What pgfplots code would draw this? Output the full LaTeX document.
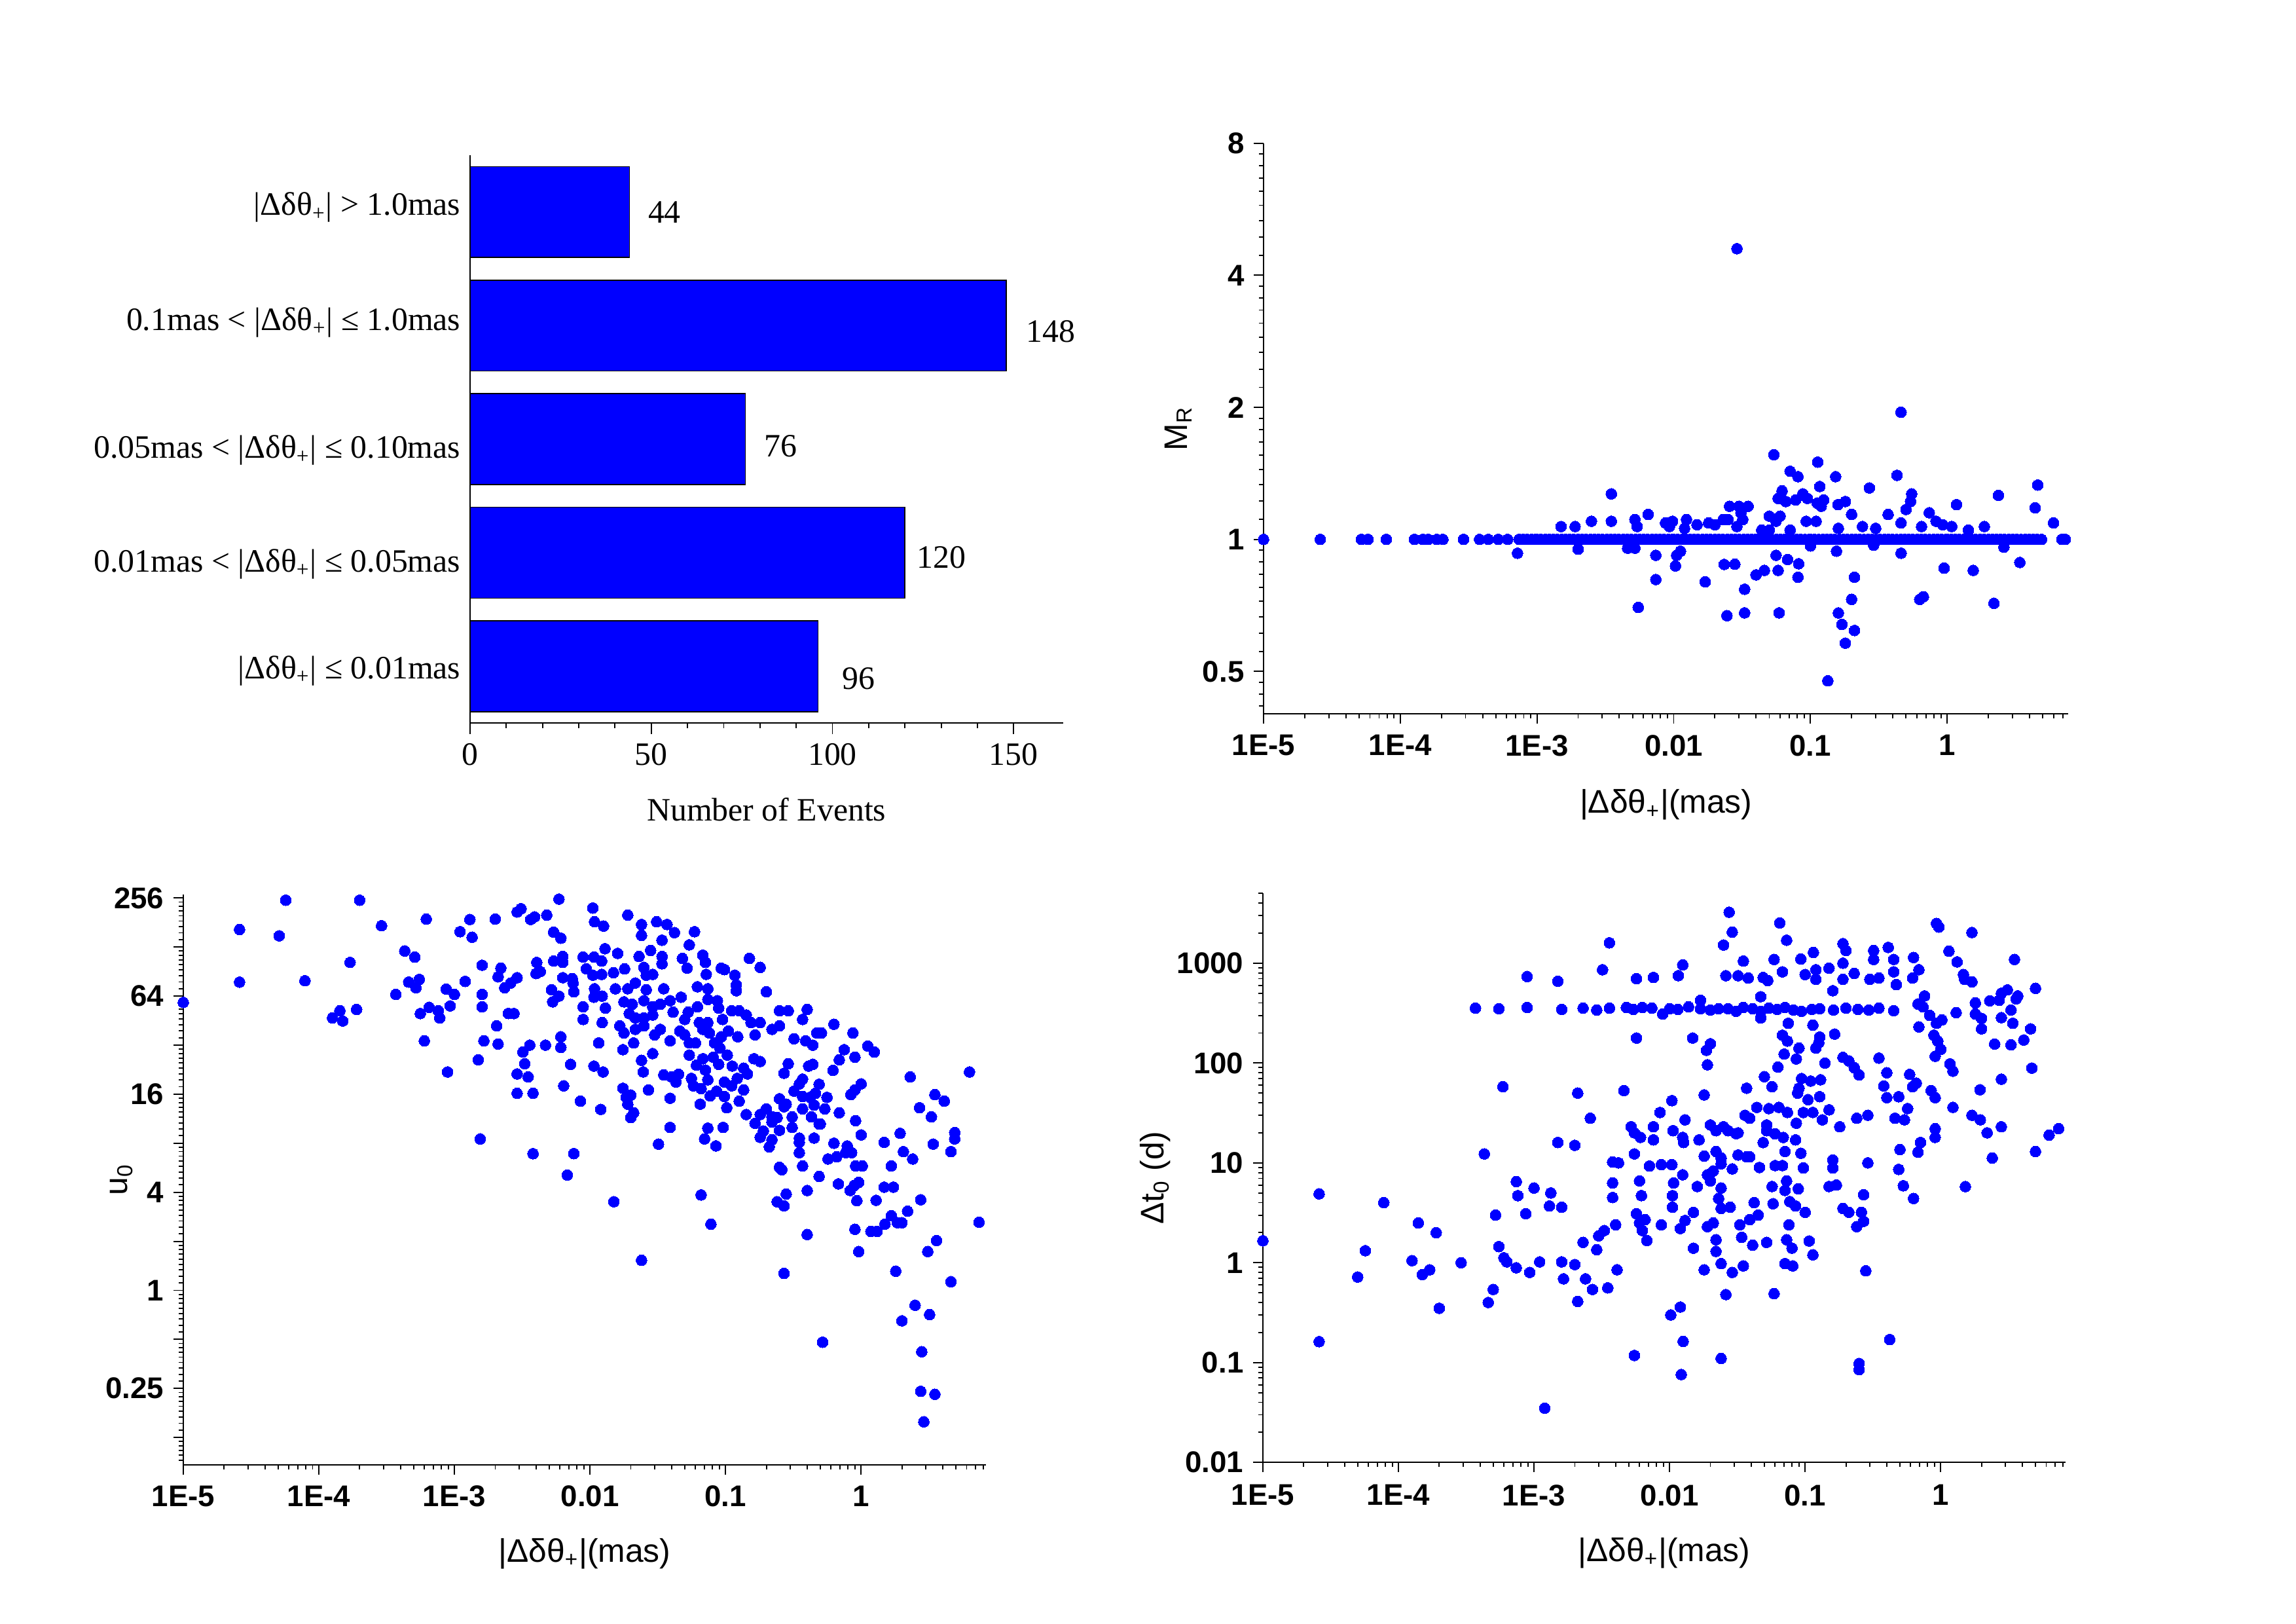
\documentclass[border=0pt]{standalone}
\usepackage{fontspec}
\setmainfont{Liberation Serif}
\setsansfont{Liberation Sans}
\usepackage{pgfplots}
\pgfplotsset{compat=1.18}
\begin{document}
\begin{tikzpicture}
\path[use as bounding box] (0,0) rectangle (29.7cm,21cm);

% ---------------- top left: bar chart
\begin{axis}[
  at={(6.080cm,11.650cm)}, anchor=south west,
  scale only axis, width=7.670cm, height=7.342cm, clip=false,
  xmin=0, xmax=163.6, ymin=-0.5, ymax=4.5,
  axis lines*=left, axis line style={-,line width=0.5pt},
  tick align=outside, major tick length=4.1pt, minor tick length=1.8pt,
  tick style={black,line width=0.45pt},
  xtick={0,50,100,150}, minor x tick num=4,
  ytick=\empty, minor ytick={0.5,1.5,2.5,3.5},
  extra y ticks={-0.04,0.90,1.90,3.03,4.04},
  extra y tick labels={|Δδθ\textsubscript{+}| ≤ 0.01mas,0.01mas < |Δδθ\textsubscript{+}| ≤ 0.05mas,0.05mas < |Δδθ\textsubscript{+}| ≤ 0.10mas,0.1mas < |Δδθ\textsubscript{+}| ≤ 1.0mas,|Δδθ\textsubscript{+}| > 1.0mas},
  extra y tick style={major tick length=0pt, tick style={draw=none}},
  tick label style={font=\fontsize{12}{14}\selectfont},
  xticklabel={\pgfmathprintnumber[assume math mode=true]{\tick}},
  xlabel={Number of Events},
  every axis x label/.style={at={(axis description cs:0.5,-0.153)},anchor=center,font=\fontsize{12}{14}\selectfont},
]
\addplot[xbar, bar width=0.8, fill=blue, draw=black, line width=0.4pt] coordinates {(96,0)(120,1)(76,2)(148,3)(44,4)};
\node[anchor=west,inner sep=0pt,font=\fontsize{12}{14}\selectfont] at (axis cs:49,4) {44};
\node[anchor=west,inner sep=0pt,font=\fontsize{12}{14}\selectfont] at (axis cs:153.4,2.95) {148};
\node[anchor=west,inner sep=0pt,font=\fontsize{12}{14}\selectfont] at (axis cs:81,1.94) {76};
\node[anchor=west,inner sep=0pt,font=\fontsize{12}{14}\selectfont] at (axis cs:123.1,0.96) {120};
\node[anchor=west,inner sep=0pt,font=\fontsize{12}{14}\selectfont] at (axis cs:102.5,-0.11) {96};
\end{axis}

% ---------------- top right: M_R
\begin{axis}[
  at={(16.345cm,11.767cm)}, anchor=south west,
  scale only axis, width=10.41cm, height=7.38cm,
  xmode=log, xmin=1e-5, xmax=7.7,
  axis lines*=left, axis line style={-,line width=0.5pt},
  tick align=outside, major tick length=3.6pt, minor tick length=1.7pt,
  tick style={black,line width=0.45pt},
  xtick={1e-5,1e-4,1e-3,0.01,0.1,1},
  xticklabels={1E-5,1E-4,1E-3,0.01,0.1,1},
  minor xtick={2e-5,3e-5,4e-5,5e-5,6e-5,7e-5,8e-5,9e-5,2e-4,3e-4,4e-4,5e-4,6e-4,7e-4,8e-4,9e-4,0.002,0.003,0.004,0.005,0.006,0.007,0.008,0.009,0.02,0.03,0.04,0.05,0.06,0.07,0.08,0.09,0.2,0.3,0.4,0.5,0.6,0.7,0.8,0.9,2,3,4,5,6,7,8},
  tick label style={font=\sffamily\bfseries\fontsize{11}{13}\selectfont},
  xticklabel style={yshift=-0.6pt},
  ymode=log, ymin=0.4, ymax=8,
  ytick={0.5,1,2,4,8}, yticklabels={0.5,1,2,4,8},
  minor ytick={0.4167,0.4444,0.4722,0.5556,0.6111,0.6667,0.7222,0.7778,0.8333,0.8889,0.9444,1.111,1.222,1.333,1.444,1.556,1.667,1.778,1.889,2.222,2.444,2.667,2.889,3.111,3.333,3.556,3.778,4.444,4.889,5.333,5.778,6.222,6.667,7.111,7.556},
  xlabel={|Δδθ\textsubscript{+}|(mas)},
  ylabel={M\textsubscript{R}},
  every axis y label/.style={at={(axis description cs:-0.1057,0.5)},rotate=90,anchor=center,font=\sffamily\fontsize{12}{14}\selectfont},
  every axis x label/.style={at={(axis description cs:0.5,-0.159)},anchor=center,font=\sffamily\fontsize{12}{14}\selectfont},
]
\addplot[only marks, mark=*, mark size=2.0pt, color=blue, mark options={fill=blue, draw=blue, line width=0pt}] coordinates {
(1e-5,1)(2.6e-5,1)(5.2e-5,1)(5.8e-5,1)(7.9e-5,1)(1.27e-4,1)(1.46e-4,1)(1.6e-4,1)(1.85e-4,1)(2.05e-4,1)(2.9e-4,1)(3.8e-4,1)(4.4e-4,1)(5.2e-4,1)(6.1e-4,1)(7.4e-4,1)(7.9e-4,1)(8.5e-4,1)(9.1e-4,1)(9.8e-4,1)
(1e-3,1)(1.07e-3,1)(1.15e-3,1)(1.23e-3,1)(1.32e-3,1)(1.41e-3,1)(1.51e-3,1)(1.62e-3,1)(1.74e-3,1)(1.86e-3,1)(2e-3,1)(2.14e-3,1)(2.29e-3,1)(2.46e-3,1)(2.63e-3,1)(2.82e-3,1)(3.02e-3,1)(3.24e-3,1)(3.47e-3,1)(3.72e-3,1)(3.98e-3,1)(4.27e-3,1)(4.57e-3,1)(4.9e-3,1)(5.25e-3,1)(5.62e-3,1)(6.03e-3,1)(6.46e-3,1)(6.92e-3,1)(7.41e-3,1)(7.94e-3,1)(8.51e-3,1)(9.12e-3,1)(9.77e-3,1)
(1e-2,1)(1.07e-2,1)(1.15e-2,1)(1.23e-2,1)(1.32e-2,1)(1.41e-2,1)(1.51e-2,1)(1.62e-2,1)(1.74e-2,1)(1.86e-2,1)(2e-2,1)(2.14e-2,1)(2.29e-2,1)(2.46e-2,1)(2.63e-2,1)(2.82e-2,1)(3.02e-2,1)(3.24e-2,1)(3.47e-2,1)(3.72e-2,1)(3.98e-2,1)(4.27e-2,1)(4.57e-2,1)(4.9e-2,1)(5.25e-2,1)(5.62e-2,1)(6.03e-2,1)(6.46e-2,1)(6.92e-2,1)(7.41e-2,1)(7.94e-2,1)(8.51e-2,1)(9.12e-2,1)(9.77e-2,1)
(0.1,1)(0.107,1)(0.115,1)(0.123,1)(0.132,1)(0.141,1)(0.151,1)(0.162,1)(0.174,1)(0.186,1)(0.2,1)(0.214,1)(0.229,1)(0.246,1)(0.263,1)(0.282,1)(0.302,1)(0.324,1)(0.347,1)(0.372,1)(0.398,1)(0.427,1)(0.457,1)(0.49,1)(0.525,1)(0.562,1)(0.603,1)(0.646,1)(0.692,1)(0.741,1)(0.794,1)(0.851,1)(0.912,1)(0.977,1)
(1,1)(1.07,1)(1.15,1)(1.23,1)(1.32,1)(1.41,1)(1.51,1)(1.62,1)(1.74,1)(1.86,1)(2,1)(2.14,1)(2.29,1)(2.46,1)(2.63,1)(2.82,1)(3.02,1)(3.24,1)(3.47,1)(3.72,1)(3.98,1)(4.27,1)(4.57,1)(4.9,1)(6.9,1)(7.3,1)
(0.029,4.6)(0.46,1.95)(0.054,1.56)(0.113,1.50)(0.071,1.43)(0.081,1.39)(0.153,1.39)(0.43,1.40)(0.117,1.32)(3.5e-3,1.27)(0.27,1.31)(0.55,1.27)(2.37,1.26)(4.6,1.33)(0.062,1.29)(0.058,1.24)(0.088,1.27)(0.095,1.24)(0.078,1.23)(0.066,1.22)(0.125,1.23)(0.112,1.21)(0.12,1.19)(0.159,1.20)(0.18,1.22)(0.54,1.22)(1.17,1.20)(0.50,1.17)(0.0256,1.19)(0.030,1.19)(0.035,1.19)(0.031,1.15)(0.032,1.11)(6.5e-3,1.14)(5.2e-3,1.11)(5.4e-3,1.07)(3.5e-3,1.10)(2.5e-3,1.10)(1.9e-3,1.07)(1.5e-3,1.07)(8.7e-3,1.09)(9.8e-3,1.10)(0.0124,1.11)(0.012,1.06)(0.018,1.09)(0.023,1.11)(0.025,1.11)(0.050,1.13)(0.056,1.10)(0.060,1.13)(0.093,1.10)(0.11,1.10)(0.20,1.14)(0.37,1.14)(0.46,1.09)(0.74,1.15)(0.83,1.10)(0.93,1.08)(1.08,1.07)(0.65,1.07)(1.43,1.05)(1.87,1.07)(4.4,1.18)(6.0,1.09)(0.16,1.06)(0.24,1.07)(0.30,1.06)(0.044,1.05)(0.050,1.05)(0.071,1.05)(0.0148,1.08)(0.020,1.08)(0.029,1.07)(9.3e-3,1.07)
(7.2e-4,0.93)(2.0e-3,0.95)(4.6e-3,0.955)(5.2e-3,0.955)(7.4e-3,0.92)(0.0112,0.94)(0.0105,0.92)(0.0103,0.87)(7.4e-3,0.81)(5.5e-3,0.70)(0.017,0.80)(0.0234,0.877)(0.028,0.878)(0.033,0.77)(0.0245,0.67)(0.033,0.68)(0.040,0.83)(0.046,0.85)(0.056,0.92)(0.058,0.85)(0.068,0.90)(0.082,0.88)(0.081,0.82)(0.059,0.68)(0.155,0.94)(0.21,0.82)(0.20,0.73)(0.16,0.68)(0.17,0.64)(0.21,0.62)(0.18,0.58)(0.134,0.476)(0.46,0.93)(0.63,0.73)(0.67,0.74)(0.95,0.86)(1.55,0.85)(2.2,0.715)(2.6,0.96)(3.4,0.886)(0.29,0.97)(0.10,0.966)
};
\end{axis}

% ---------------- bottom left: u0
\begin{axis}[
  at={(2.371cm,2.057cm)}, anchor=south west,
  scale only axis, width=10.38cm, height=7.378cm,
  xmode=log, xmin=1e-5, xmax=8.3,
  axis lines*=left, axis line style={-,line width=0.5pt},
  tick align=outside, major tick length=3.6pt, minor tick length=1.7pt,
  tick style={black,line width=0.45pt},
  xtick={1e-5,1e-4,1e-3,0.01,0.1,1},
  xticklabels={1E-5,1E-4,1E-3,0.01,0.1,1},
  minor xtick={2e-5,3e-5,4e-5,5e-5,6e-5,7e-5,8e-5,9e-5,2e-4,3e-4,4e-4,5e-4,6e-4,7e-4,8e-4,9e-4,0.002,0.003,0.004,0.005,0.006,0.007,0.008,0.009,0.02,0.03,0.04,0.05,0.06,0.07,0.08,0.09,0.2,0.3,0.4,0.5,0.6,0.7,0.8,0.9,2,3,4,5,6,7,8},
  tick label style={font=\sffamily\bfseries\fontsize{11}{13}\selectfont},
  xticklabel style={yshift=-0.6pt},
  ymode=log, ymin=0.085, ymax=270,
  ytick={0.125,0.25,0.5,1,2,4,8,16,32,64,128,256}, yticklabels={,0.25,,1,,4,,16,,64,,256},
  minor ytick={0.0903,0.0972,0.1042,0.1111,0.1181,0.1389,0.1528,0.1667,0.1806,0.1944,0.2083,0.2222,0.2361,0.2778,0.3056,0.3333,0.3611,0.3889,0.4167,0.4444,0.4722,0.5556,0.6111,0.6667,0.7222,0.7778,0.8333,0.8889,0.9444,1.111,1.222,1.333,1.444,1.556,1.667,1.778,1.889,2.222,2.444,2.667,2.889,3.111,3.333,3.556,3.778,4.444,4.889,5.333,5.778,6.222,6.667,7.111,7.556,8.889,9.778,10.667,11.556,12.444,13.333,14.222,15.111,17.778,19.556,21.333,23.111,24.889,26.667,28.444,30.222,35.556,39.111,42.667,46.222,49.778,53.333,56.889,60.444,71.111,78.222,85.333,92.444,99.556,106.67,113.78,120.89,142.22,156.44,170.67,184.89,199.11,213.33,227.56,241.78},
  xlabel={|Δδθ\textsubscript{+}|(mas)},
  ylabel={u\textsubscript{0}},
  every axis y label/.style={at={(axis description cs:-0.077,0.5)},rotate=90,anchor=center,font=\sffamily\fontsize{12}{14}\selectfont},
  every axis x label/.style={at={(axis description cs:0.5,-0.156)},anchor=center,font=\sffamily\fontsize{12}{14}\selectfont},
]
\addplot[only marks, mark=*, mark size=2.0pt, color=blue, mark options={fill=blue, draw=blue, line width=0pt}] coordinates {
(1e-5,58.5)(2.6e-5,164)(2.6e-5,78)(5.7e-5,248)(5.1e-5,150)(7.9e-5,79.5)
(2.0e-4,248)(2.9e-4,173)(1.7e-4,103)(1.26e-4,47)(1.43e-4,52)(1.5e-4,45)(1.9e-4,53)
(3.7e-4,65.5)(4.3e-4,121)(5.1e-4,111)(4.6e-4,78)(5.5e-4,81)(5.2e-4,72)(6.2e-4,190)(5.6e-4,50)(6.5e-4,54.6)(7.6e-4,52)(7.8e-4,47)(6.0e-4,34)(8.9e-4,21.9)(8.7e-4,70.6)(1.0e-3,65.5)(9.3e-4,55.7)
(1.1e-3,159)(1.3e-3,189)(1.35e-3,147)(1.2e-3,78.7)(1.6e-3,99)(1.6e-3,65.5)(1.6e-3,55)(1.65e-3,34)(1.5e-3,26)(1.55e-3,8.5)
(2.0e-3,190)(2.2e-3,95)(2.1e-3,84)(2.35e-3,72)(2.6e-3,77)(2.9e-3,83)(2.05e-3,42)(2.1e-3,32.5)(2.5e-3,50)(2.75e-3,50)(2.9e-3,210)(3.1e-3,220)(3.65e-3,189)(3.9e-3,196)(4.8e-3,201)(4.05e-3,103)(4.3e-3,90.5)(4.0e-3,88)
(2.9e-3,21.3)(3.3e-3,24.6)(3.2e-3,29)(3.6e-3,32)(3.5e-3,20.4)(2.9e-3,16.2)(3.8e-3,16.2)(3.8e-3,6.9)(4.7e-3,32)(5.4e-3,105)(5.2e-3,70)(5.4e-3,158)(5.3e-3,59)
(5.9e-3,252)(0.0105,222)(0.0108,183)(0.0126,172)(0.019,201)(0.024,176)(0.024,151)(0.031,183)(0.037,176)(0.042,157)(0.034,141)(0.059,159)(0.054,132)(6.1e-3,145)(0.0129,125)(0.016,117)(0.028,122)(0.023,112)(0.034,112)(0.048,109)(0.068,114)(6.3e-3,112)(6.3e-3,103)(8.9e-3,111)(0.0107,111)(0.0122,105)(9.4e-3,94)(0.0105,86)(0.0122,87)(0.0149,89)(0.018,94)(0.025,96)(0.034,101)(0.052,95)(0.071,103)(0.072,87)(0.093,95)(0.098,93)(0.117,86)(0.15,109)(0.18,96)
(6.3e-3,83)(7.4e-3,82)(7.5e-3,77)(7.6e-3,68)(5.9e-3,64)(0.0108,71)(0.0107,63)(0.0123,64)(0.0154,71)(0.019,71)(0.0216,77)(0.026,70)(0.035,71)(0.026,86)(0.029,87)(0.062,73)(0.074,71)(0.12,75)(0.12,69)(0.20,68)
(8.9e-3,55)(8.9e-3,46)(0.013,54)(0.0123,44)(0.0178,59)(0.0205,57)(0.025,60)(0.029,55)(0.033,57)(0.039,60)(0.047,63)(0.062,55)(0.074,61)(0.087,60)(0.089,54)(0.0195,50)(0.0216,47)(0.025,47)(0.029,49)(0.041,51)(0.053,51)(0.050,46)(0.064,44)(0.074,44)(0.095,46)(0.111,52)(0.126,52)(0.142,49)(0.154,44)(0.18,44)(0.22,40)(0.25,42)(0.25,52)(0.29,52)(0.40,53)(0.37,46)(0.63,43)(0.87,38)
(0.0166,42)(0.0178,38)(0.021,33)(0.025,42)(0.0216,40)(0.030,37)(0.033,40)(0.039,34)(0.046,39)(0.050,37)(0.054,33)(0.060,33)(0.068,40)(0.076,38)(0.083,33)(0.093,36)(0.105,39)(0.123,36)(0.091,30.7)(0.103,27.8)(0.165,37)(0.32,35)(0.39,34)(0.44,32)(0.47,38)(0.51,38)(0.75,30)(1.12,31.6)(1.25,29)(0.90,27)(0.69,26)(0.62,22.4)
(6.1e-3,36)(6.1e-3,31)(0.0116,33)(0.0175,30)(7.2e-3,24.4)(0.0107,23.8)(0.0125,21.9)(0.024,25.8)(0.0247,21.9)(0.029,28.4)(0.054,27.8)(0.061,24.1)(0.068,26.4)(0.081,27)(0.071,22.5)(0.089,24.4)(0.112,23.8)(0.136,23.1)(0.162,26.4)(0.18,25.4)(0.145,21.3)(0.27,21.5)(0.29,24.6)(0.41,23.8)(0.44,24.4)
(0.035,21)(0.040,20.4)(0.045,21.2)(0.043,19)(0.056,20)(0.058,18)(0.066,17.3)(0.074,19.6)(0.098,19)(0.111,18)(0.122,20)(0.136,17)(0.086,16.7)(0.077,15.6)(0.098,15.5)(0.126,14.5)(0.102,13.2)(0.065,13.9)(0.039,15.1)(0.0175,17.4)(0.0185,15.3)(0.020,15.8)(0.019,13.9)(0.021,12.3)(0.020,11.5)(0.027,17)(6.4e-3,18)(8.5e-3,14.5)(0.012,12.9)
(0.039,10)(0.032,7.9)(0.074,9.9)(0.070,8.5)(0.085,7.7)(0.096,10)(0.142,12)(0.165,10.6)(0.18,12)(0.20,13)(0.22,11.6)(0.24,11.5)(0.22,10.8)(0.25,9.6)(0.19,9.5)(0.18,8.7)(0.22,8.4)(0.21,7.6)(0.25,15)(0.28,13.9)(0.27,13.4)(0.31,11.6)(0.31,10)(0.32,16.7)(0.35,18.5)(0.37,19.8)(0.37,15.5)(0.37,13)(0.42,15.3)(0.45,13.7)(0.46,16.2)(0.49,18.4)(0.43,11.6)(0.49,10.5)(0.50,10.5)(0.54,13)(0.56,15.3)(0.69,12.3)(0.84,15.9)(0.90,17)(1.0,18.5)(0.91,11)(1.0,9)
(0.35,8.6)(0.35,8.1)(0.35,7.0)(0.45,8.6)(0.37,5.8)(0.25,5.7)(0.26,5.5)(0.49,5.0)(0.40,4.1)(0.63,8.0)(0.79,7.7)(0.77,7.0)(0.85,7.0)(0.57,6.4)(0.66,6.6)(0.91,5.8)(1.02,5.8)(0.68,4.5)(0.83,4.1)(0.89,4.4)(0.96,4.6)(0.93,3.55)
(1.48,8.1)(1.94,9.2)(2.05,7.1)(2.4,6.4)(1.67,5.8)(2.3,20.4)(2.7,13.2)(3.5,15.9)(4.1,14.5)(3.3,11.6)(3.4,7.9)(4.9,9.3)(4.9,8.5)(4.6,7.1)(6.3,21.9)(1.48,4.3)(1.73,4.3)(1.29,3.57)(2.75,3.6)(2.2,3.06)(1.67,2.87)(1.5,2.55)(1.85,2.6)(2.0,2.6)(1.18,2.3)(1.31,2.3)(0.90,2.37)(0.96,1.73)(7.4,2.62)(3.6,2.02)(3.1,1.73)(1.8,1.31)(4.6,1.13)(2.5,0.81)(2.0,0.65)(3.2,0.71)(2.8,0.42)(2.75,0.24)(3.5,0.23)(2.9,0.156)
(0.52,0.48)(0.27,1.27)(0.40,2.2)(0.24,3.5)(0.27,3.3)(0.28,3.9)(0.066,3.85)(0.078,2.55)(0.024,1.53)(0.015,3.5)(7.6e-3,6.9)(6.8e-3,5.1)
};
\end{axis}

% ---------------- bottom right: Delta t0
\begin{axis}[
  at={(16.336cm,2.087cm)}, anchor=south west,
  scale only axis, width=10.38cm, height=7.359cm,
  xmode=log, xmin=1e-5, xmax=8.3,
  axis lines*=left, axis line style={-,line width=0.5pt},
  tick align=outside, major tick length=3.6pt, minor tick length=1.7pt,
  tick style={black,line width=0.45pt},
  xtick={1e-5,1e-4,1e-3,0.01,0.1,1},
  xticklabels={1E-5,1E-4,1E-3,0.01,0.1,1},
  minor xtick={2e-5,3e-5,4e-5,5e-5,6e-5,7e-5,8e-5,9e-5,2e-4,3e-4,4e-4,5e-4,6e-4,7e-4,8e-4,9e-4,0.002,0.003,0.004,0.005,0.006,0.007,0.008,0.009,0.02,0.03,0.04,0.05,0.06,0.07,0.08,0.09,0.2,0.3,0.4,0.5,0.6,0.7,0.8,0.9,2,3,4,5,6,7,8},
  tick label style={font=\sffamily\bfseries\fontsize{11}{13}\selectfont},
  xticklabel style={yshift=-1.1pt},
  ymode=log, ymin=0.01, ymax=5000,
  ytick={0.01,0.1,1,10,100,1000}, yticklabels={0.01,0.1,1,10,100,1000},
  minor ytick={0.02,0.03,0.04,0.05,0.06,0.07,0.08,0.09,0.2,0.3,0.4,0.5,0.6,0.7,0.8,0.9,2,3,4,5,6,7,8,9,20,30,40,50,60,70,80,90,200,300,400,500,600,700,800,900,2000,3000,4000,5000},
  xlabel={|Δδθ\textsubscript{+}|(mas)},
  ylabel={Δt\textsubscript{0} (d)},
  every axis y label/.style={at={(axis description cs:-0.134,0.5)},rotate=90,anchor=center,font=\sffamily\fontsize{12}{14}\selectfont},
  every axis x label/.style={at={(axis description cs:0.5,-0.159)},anchor=center,font=\sffamily\fontsize{12}{14}\selectfont},
]
\addplot[only marks, mark=*, mark size=2.0pt, color=blue, mark options={fill=blue, draw=blue, line width=0pt}] coordinates {
(0.0275,3240)(0.029,2050)(0.025,1520)(0.065,2530)(0.073,1700)(3.6e-3,1600)(0.0125,960)(0.0116,750)(3.2e-3,860)(8.9e-4,735)(1.5e-3,660)(5.7e-3,700)(7.6e-3,720)(0.035,1050)(0.059,1090)(0.093,1100)(0.115,1280)(0.19,1570)(0.20,1340)(0.32,1340)(0.32,1090)(0.41,1440)(0.45,1090)(0.63,1140)(0.93,2500)(0.97,2300)(1.15,1320)(1.32,1030)(1.70,2030)(3.5,1090)(0.19,1000)(0.15,890)(0.12,860)(0.10,770)(0.068,820)(0.032,750)(0.026,750)(0.038,710)(0.049,720)(0.053,670)(0.12,690)(0.16,530)(0.19,690)(0.23,790)(0.30,690)(0.35,710)(0.45,820)(0.47,610)(0.62,710)(0.69,860)(1.47,770)(1.5,690)(1.70,650)(1.8,400)(2.3,420)(2.7,425)(3.1,540)(2.8,500)(3.7,470)(5.0,560)(3.6,440)(3.3,340)(2.8,285)(3.4,250)(1.8,310)(2.0,280)(2.0,220)(4.6,220)(4.1,170)(3.3,152)(2.5,155)(1.3,320)(1.02,270)(0.93,250)(0.83,300)(0.74,365)(0.68,390)(0.76,470)(0.69,230)(0.89,190)(0.95,166)(1.0,137)(0.91,117)(1.17,98)(1.23,83)(4.7,89)(2.8,69)(1.95,54)(0.85,53)(0.91,45)(1.23,36)(1.70,30)(1.96,27)(2.2,20)(2.8,23)(7.4,22)(6.3,19)(5.0,13)(2.4,11.2)(0.91,22)(0.91,18)(0.71,16)(0.68,12.8)(0.50,13.6)(0.49,8.6)(0.53,5.9)(0.63,4.4)(1.52,5.8)(0.29,10)(0.16,10.7)(0.16,8.9)(0.15,5.8)(0.17,6.0)(0.27,4.8)(0.19,3.5)(0.21,3.2)(0.26,3.2)(0.27,2.6)(0.24,2.3)(0.28,0.83)(0.42,0.17)(0.25,0.098)(0.25,0.085)
(0.19,114)(0.21,105)(0.23,90)(0.25,76)(0.35,112)(0.40,80)(0.38,59)(0.40,45)(0.49,46)(0.46,28)(0.54,27)(0.57,35)(0.59,77)(0.62,58)(0.66,63)(0.29,30)(0.24,28)(0.18,23)(0.14,100)(0.13,68)(0.11,66)(0.128,46)(0.15,34)(0.114,32)(0.134,27)(0.094,70)(0.09,56)(0.088,50)(0.105,43)(0.097,32)(0.086,25)(0.12,141)(0.126,160)(0.128,182)(0.114,240)(0.165,195)(0.09,141)(0.086,110)(0.07,123)(0.068,190)(0.074,166)(0.063,91)(0.050,73)(0.057,58)(0.037,56)(0.044,36)(0.054,35)(0.064,36)(0.074,32)(0.052,24)(0.052,21)(0.060,19.5)(0.069,18)(0.085,17)(0.093,12.5)(0.071,13)(0.049,16)(0.039,28)(0.036,30)(0.032,20)(0.039,11.5)(0.046,9.0)(0.060,9.4)(0.068,9.4)(0.073,6.6)(0.071,5.3)(0.057,5.8)(0.089,5.5)(0.097,8.9)(0.077,4.1)(0.085,3.7)(0.10,3.2)(0.058,3.9)(0.076,2.4)(0.073,1.7)(0.080,1.4)(0.107,1.65)(0.114,1.2)(0.081,0.93)(0.071,0.98)(0.052,1.6)(0.042,4.0)(0.045,3.0)(0.034,1.8)(0.033,2.4)(0.039,2.7)(0.041,1.5)(0.035,0.93)(0.029,0.80)(0.024,0.98)(0.059,0.49)(0.026,0.48)(0.024,0.11)(0.022,1.3)(0.022,1.7)(0.018,0.85)(0.019,2.3)(0.021,2.5)(0.024,3.5)(0.023,4.4)(0.024,5.6)(0.028,3.6)(0.020,6.6)(0.019,7.6)(0.021,8.3)(0.024,9.8)(0.029,8.7)(0.024,11.2)(0.022,13)(0.018,11.7)(0.0165,17)(0.032,12)(0.037,11.5)(0.025,23)(0.020,24)(0.022,21)(0.027,21)(0.031,19.6)(0.018,48)(0.013,27)(0.0106,21)(0.0125,18)(0.0127,16)(0.0104,42)(8.5e-3,32)(7.6e-3,23)(7.6e-3,17)(5.2e-3,23)(5.5e-3,20)(6.1e-3,18)(4.6e-3,53)(5.5e-3,12.3)(7.1e-3,9.3)(8.7e-3,9.6)(0.0104,9.6)(0.0125,7.6)(0.0107,6.3)(0.016,5.8)(0.0105,4.7)(0.0105,3.6)(6.0e-3,6.6)(6.2e-3,4.7)(3.8e-3,10.2)(4.2e-3,10)(3.8e-3,6.3)(3.8e-3,4.5)(5.7e-3,3.1)(6.6e-3,2.7)(6.0e-3,2.5)(6.3e-3,2.1)(6.8e-3,1.67)(8.7e-3,2.4)(0.012,2.2)(0.013,2.65)(0.015,3.2)(0.015,1.4)(0.0102,0.30)(0.012,0.36)(0.0126,0.163)(0.0122,0.076)(5.5e-3,0.118)(1.2e-3,0.035)(4.0e-3,2.4)(4.1e-3,0.85)(3.3e-3,2.1)(3.0e-3,1.86)(2.3e-3,1.6)(2.9e-3,1.35)(2.4e-3,0.69)(2.7e-3,0.54)(3.5e-3,0.56)(2.1e-3,0.41)(2.0e-3,0.96)(1.65e-3,0.69)(1.6e-3,1.02)(1.1e-3,1.02)(9.3e-4,0.80)(7.4e-4,0.89)(6.3e-4,1.02)(6.0e-4,1.12)(5.5e-4,1.45)(5.0e-4,0.54)(4.6e-4,0.40)(5.2e-4,3.0)(8.7e-4,3.1)(7.6e-4,4.7)(7.4e-4,6.5)(1.0e-3,5.6)(1.3e-3,3.7)(1.33e-3,5.0)(1.6e-3,3.6)(1.5e-3,16)(2.0e-3,15)(2.1e-3,50)(2.6e-3,28)(5.9e-4,58)(4.3e-4,12.3)(2.9e-4,1.0)(1.7e-4,0.85)(1.5e-4,0.76)(1.26e-4,1.05)(2.0e-4,0.35)(1.9e-4,2.0)(1.4e-4,2.5)(7.8e-5,4.0)(5.7e-5,1.32)(5.0e-5,0.72)(2.6e-5,4.9)(2.6e-5,0.162)(1e-5,1.66)
(3.7e-4,355)(5.5e-4,350)(8.9e-4,360)(1.6e-3,345)(2.3e-3,355)(2.9e-3,340)(3.6e-3,355)(4.8e-3,360)(5.4e-3,345)(6.3e-3,360)(7.4e-3,355)(8.9e-3,310)(0.010,350)(0.0115,345)(0.0138,365)(0.0169,425)(0.0169,350)(0.020,340)(0.023,350)(0.027,350)(0.031,330)(0.035,360)(0.041,350)(0.047,330)(0.054,355)(0.062,345)(0.071,360)(0.082,340)(0.094,330)(0.112,345)(0.128,350)(0.162,340)(0.20,355)(0.245,345)(0.295,340)(0.35,355)(0.45,335)(0.047,462)(0.047,283)(0.075,250)(5.7e-3,178)(0.0148,178)(0.020,156)(0.0187,134)(0.019,96)
};
\end{axis}
\end{tikzpicture}
\end{document}
